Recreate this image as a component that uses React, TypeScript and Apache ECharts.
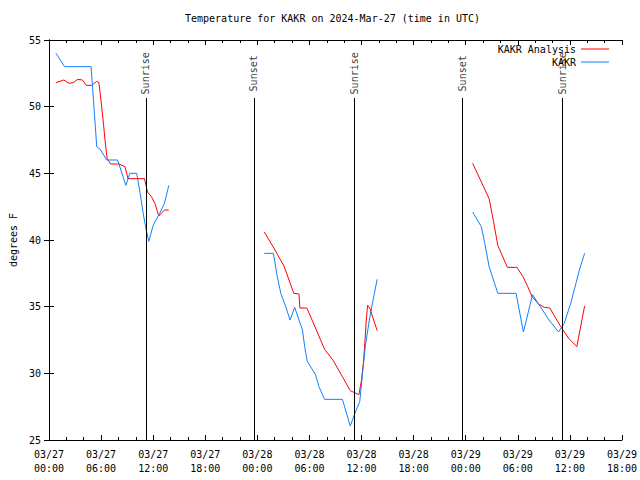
import React, { useEffect, useRef } from "react";
import * as echarts from "echarts";

// Hours since 03/27 00:00 UTC; null temps break the line
const analysisHours = [
  0.8, 1.7, 2.3, 2.8, 3.3, 3.85, 4.3, 4.9, 5.5, 5.75, 6.07, 6.27, 6.45, 6.7, 7.1, 8.05, 8.75, 9.1, 11.0, 11.35, 11.8, 12.2, 12.65, 13.3, 13.8,
  19,
  24.8, 25.9, 27.1, 28.2, 28.8, 28.9, 29.7, 30.7, 31.75, 32.7, 33.8, 34.7, 35.7, 36.0, 36.25, 36.55, 36.7, 36.95, 37.8,
  43,
  48.8, 50.7, 51.2, 51.7, 52.8, 53.9, 54.6, 55.15, 55.65, 56.4, 57.05, 57.7, 58.4, 59.15, 59.9, 60.8, 61.7,
];
const analysisTemps = [
  51.8, 52.0, 51.75, 51.8, 52.05, 52.0, 51.6, 51.6, 51.9, 51.8, 50.0, 48.75, 47.5, 46.1, 45.7, 45.7, 45.5, 44.6, 44.6, 43.6, 43.25, 42.75, 41.8, 42.25, 42.25,
  null,
  40.6, 39.4, 38.0, 36.0, 35.95, 34.9, 34.9, 33.4, 31.8, 31.0, 29.75, 28.7, 28.4, 29.5, 31.0, 34.0, 35.1, 34.9, 33.2,
  null,
  45.75, 43.1, 41.4, 39.6, 37.95, 37.95, 37.25, 36.5, 35.75, 35.2, 34.95, 34.9, 34.1, 33.3, 32.6, 32.0, 35.05,
];

const obsHours = [
  0.8, 1.8, 4.85, 5.5, 5.9, 6.65, 7.9, 8.86, 9.3, 10.1, 10.5, 10.85, 11.2, 11.5, 12.0, 12.75, 13.3, 13.8,
  19,
  24.8, 25.85, 26.3, 26.7, 27.27, 27.77, 28.3, 28.8, 29.2, 29.45, 29.75, 30.7, 31.1, 31.75, 33.8, 34.7, 35.3, 35.8, 36.1, 36.45, 36.9, 37.3, 37.8,
  43,
  48.8, 49.8, 50.2, 50.7, 51.7, 53.8, 54.65, 55.7, 56.7, 57.6, 58.7, 59.35, 60.1, 61.1, 61.7,
];
const obsTemps = [
  54.0, 53.0, 53.0, 47.0, 46.8, 46.0, 46.0, 44.1, 45.0, 45.0, 43.5, 42.0, 40.75, 39.9, 41.1, 42.0, 42.75, 44.1,
  null,
  39.0, 39.0, 37.25, 36.0, 35.0, 34.0, 34.95, 34.0, 33.25, 32.0, 30.9, 29.9, 29.0, 28.05, 28.05, 26.05, 27.1, 27.9, 29.9, 32.1, 34.0, 35.4, 37.05,
  null,
  42.1, 41.0, 39.75, 38.0, 36.0, 36.0, 33.1, 35.9, 34.9, 34.0, 33.1, 33.75, 35.25, 37.75, 39.0,
];

const sunEventHours = [11.15, 23.6, 35.2, 47.6, 59.1];
const sunEventNames = ["Sunrise", "Sunset", "Sunrise", "Sunset", "Sunrise"];

const xTickStep = 6;
const xMin = 0;
const xMax = 66;
const yMin = 25;
const yMax = 55;
const yStep = 5;

const FONT = "DejaVu Sans Mono";

export default function App() {
  const ref = useRef<HTMLDivElement>(null);
  useEffect(() => {
    if (!ref.current) return;
    const chart = echarts.init(ref.current, undefined, { renderer: "svg" });
    const zip = (hs: number[], ts: (number | null)[]) =>
      hs.map((h, i) => [h, ts[i] === null ? "-" : ts[i]]);
    const lineTop = 50.65;
    const labelY = 52.5;
    const fmt = (v: number) => {
      const day = 27 + Math.floor(v / 24);
      const hh = v % 24;
      return `03/${day}\n${hh < 10 ? "0" + hh : hh}:00`;
    };
    const commonX = {
      type: "value",
      min: xMin,
      max: xMax,
      interval: xTickStep,
      splitLine: { show: false },
      axisLine: { show: true, lineStyle: { color: "#000", width: 1 } },
      axisTick: { show: true, inside: true, length: 5, lineStyle: { color: "#000" } },
      minorTick: { show: true, splitNumber: 3, length: 3, lineStyle: { color: "#000" } },
    };
    const commonY = {
      type: "value",
      min: yMin,
      max: yMax,
      interval: yStep,
      splitLine: { show: false },
      axisLine: { show: true, lineStyle: { color: "#000", width: 1 } },
      axisTick: { show: true, inside: true, length: 5, lineStyle: { color: "#000" } },
    };
    chart.setOption({
      animation: false,
      backgroundColor: "#fff",
      textStyle: { fontFamily: FONT, fontSize: 10, color: "#000" },
      title: {
        text: "Temperature for KAKR on 2024-Mar-27 (time in UTC)",
        left: 185,
        top: 13,
        padding: 0,
        textStyle: { fontFamily: FONT, fontSize: 10, fontWeight: "normal", color: "#000" },
      },
      legend: {
        show: true,
        orient: "vertical",
        right: 31,
        top: 43,
        align: "right",
        icon: "rect",
        itemWidth: 28,
        itemHeight: 1,
        itemGap: 1,
        padding: 0,
        data: ["KAKR Analysis", "KAKR"],
        textStyle: { fontFamily: FONT, fontSize: 10, color: "#000", lineHeight: 12, padding: [0, 0, 0, 0] },
      },
      grid: { left: 46, right: 18, top: 40, bottom: 40, containLabel: false },
      xAxis: [
        {
          ...commonX,
          position: "bottom",
          axisLabel: {
            show: true,
            margin: 7,
            formatter: fmt,
            lineHeight: 14,
            fontFamily: FONT,
            fontSize: 10,
            color: "#000",
          },
        },
        { ...commonX, position: "top", axisLabel: { show: false } },
      ],
      yAxis: [
        {
          ...commonY,
          position: "left",
          name: "degrees F",
          nameLocation: "middle",
          nameGap: 31,
          nameTextStyle: { fontFamily: FONT, fontSize: 10, color: "#000" },
          axisLabel: { show: true, margin: 8, fontFamily: FONT, fontSize: 10, color: "#000" },
        },
        { ...commonY, position: "right", axisLabel: { show: false } },
      ],
      series: [
        {
          name: "KAKR Analysis",
          type: "line",
          data: zip(analysisHours, analysisTemps),
          symbol: "none",
          connectNulls: false,
          lineStyle: { color: "#ff0000", width: 1 },
          itemStyle: { color: "#ff0000" },
          z: 3,
        },
        {
          name: "KAKR",
          type: "line",
          data: zip(obsHours, obsTemps),
          symbol: "none",
          connectNulls: false,
          lineStyle: { color: "#1080ff", width: 1 },
          itemStyle: { color: "#1080ff" },
          z: 4,
        },
        {
          name: "sun",
          type: "scatter",
          symbolSize: 0,
          silent: true,
          data: sunEventHours.map((h, i) => ({ value: [h, labelY], name: sunEventNames[i] })),
          label: {
            show: true,
            position: "inside",
            rotate: 90,
            formatter: (p: any) => p.name,
            fontFamily: FONT,
            fontSize: 10,
            color: "#000",
          },
          markLine: {
            silent: true,
            symbol: ["none", "none"],
            label: { show: false },
            lineStyle: { color: "#000", width: 1, type: "solid" },
            data: sunEventHours.map((h) => [{ coord: [h, lineTop] }, { coord: [h, yMin] }]),
          },
          z: 2,
        },
      ],
    });
    return () => chart.dispose();
  }, []);
  return (
    <div
      ref={ref}
      style={{ position: "absolute", left: 0, top: 0, width: 640, height: 480 }}
    />
  );
}
